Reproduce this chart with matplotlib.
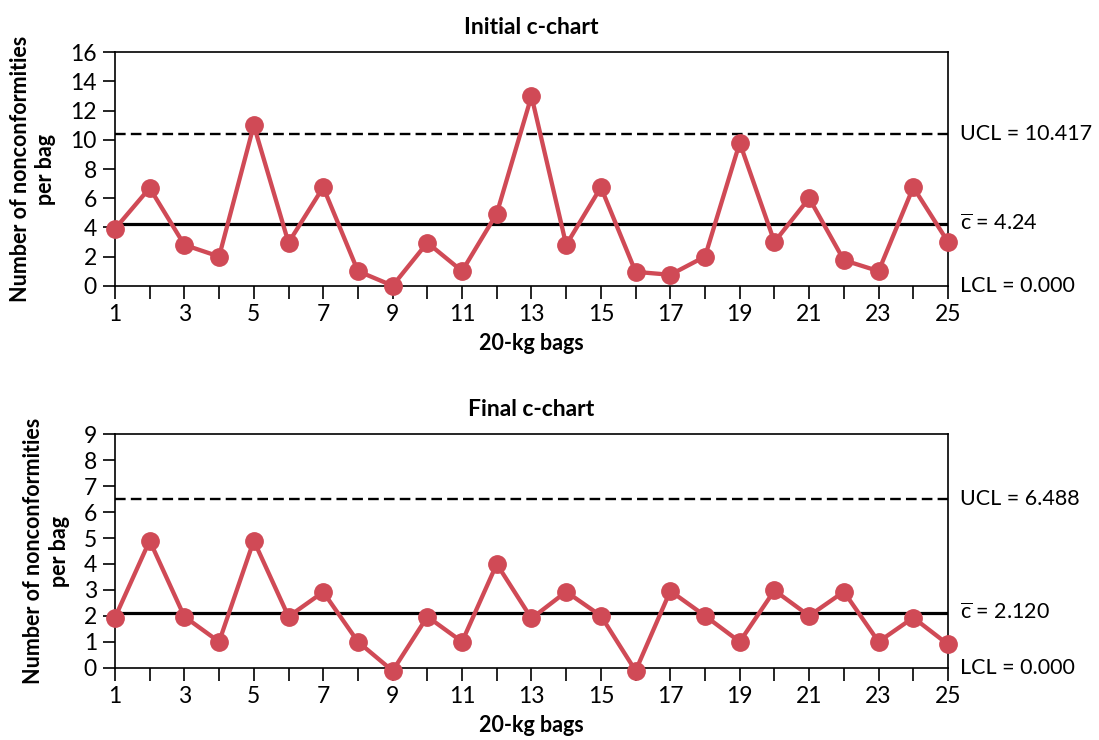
import numpy as np
import matplotlib.pyplot as plt

plt.rcParams['font.family'] = ['Lato', 'DejaVu Sans']
plt.rcParams['mathtext.fontset'] = 'custom'
plt.rcParams['mathtext.rm'] = 'Lato'

# bag numbers
bags = np.arange(1, 26)

# nonconformities per bag, as plotted
initial_counts = [3.9, 6.7, 2.8, 2.0, 11.0, 2.95, 6.75, 1.0, 0.0, 2.95, 1.0, 4.95, 13.0,
                  2.8, 6.75, 0.95, 0.75, 2.0, 9.8, 3.0, 6.0, 1.75, 1.0, 6.75, 3.0]
final_counts = [1.93, 4.9, 1.97, 1.0, 4.9, 1.97, 2.92, 1.0, -0.12, 1.97, 1.0, 4.0, 1.9,
                2.93, 2.0, -0.12, 2.96, 2.0, 1.0, 2.98, 2.0, 2.93, 1.0, 1.93, 0.9]

# control limits
initial_limits = {'ucl': 10.417, 'cbar': 4.24, 'lcl': 0.0}
final_limits = {'ucl': 6.488, 'cbar': 2.12, 'lcl': 0.0}
initial_labels = ['UCL = 10.417', r'$\overline{\mathrm{c}}$ = 4.24', 'LCL = 0.000']
final_labels = ['UCL = 6.488', r'$\overline{\mathrm{c}}$ = 2.120', 'LCL = 0.000']

red = '#D04A56'

fig = plt.figure(figsize=(10.99, 7.4), dpi=100)
ax1 = fig.add_axes([0.1046, 0.6139, 0.758, 0.3154])
ax2 = fig.add_axes([0.1046, 0.0977, 0.758, 0.3154])


def draw_chart(ax, counts, limits, labels, title, ymax):
    ax.axhline(limits['ucl'], color='black', lw=1.7, linestyle=(0, (4.5, 2.2)), zorder=2)
    ax.axhline(limits['cbar'], color='black', lw=2.3, zorder=2)
    ax.plot(bags, counts, color=red, lw=3.1, marker='o', markersize=12.5,
            clip_on=False, zorder=3)
    ax.set_xlim(1, 25)
    ax.set_ylim(0, ymax)
    ax.set_xticks(bags)
    ax.set_xticklabels([str(b) if b % 2 == 1 else '' for b in bags])
    ax.set_yticks(np.arange(0, ymax + 1, 2 if ymax > 10 else 1))
    ax.tick_params(direction='out', length=9, width=1.2, labelsize=16.5, pad=4)
    for s in ax.spines.values():
        s.set_linewidth(1.2)
    ax.set_title(title, fontsize=16.5, fontweight='bold', pad=13)
    ax.set_xlabel('20-kg bags', fontsize=15.5, fontweight='bold', labelpad=6)
    ax.set_ylabel('Number of nonconformities\nper bag', fontsize=15.5,
                  fontweight='bold', linespacing=1.25, labelpad=10)
    trans = ax.get_yaxis_transform()
    for val, txt in zip([limits['ucl'], limits['cbar'], limits['lcl']], labels):
        ax.text(1.015, val, txt, transform=trans, fontsize=15.5, va='center', ha='left')


draw_chart(ax1, initial_counts, initial_limits, initial_labels, 'Initial c-chart', 16)
draw_chart(ax2, final_counts, final_limits, final_labels, 'Final c-chart', 9)

plt.savefig('out.png', dpi=100)
